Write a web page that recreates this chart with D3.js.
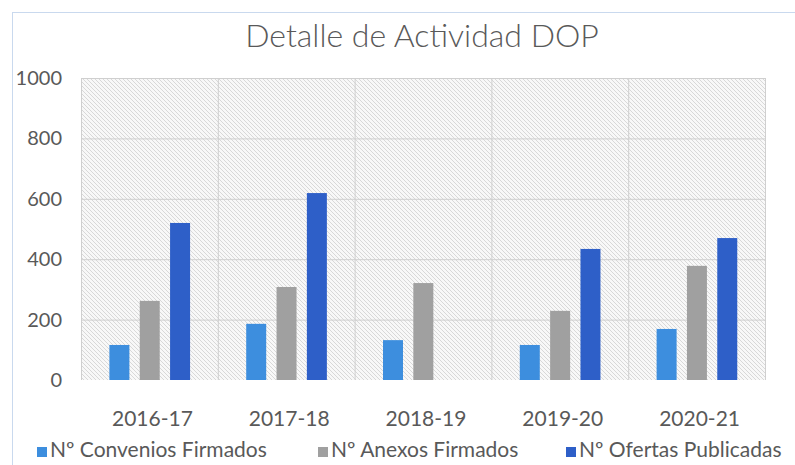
<!DOCTYPE html>
<html>

<head>
  <meta charset="utf-8">
  <title></title>
  <style>
    body { margin: 0; background: #fff; }
    text { font-family: Lato, "Open Sans", sans-serif; fill: #595959; }
  </style>
</head>

<body>

  <script src="https://cdnjs.cloudflare.com/ajax/libs/d3/7.8.5/d3.min.js" charset="utf-8"></script>
  <script type="text/javascript">
    var categories = ["2016-17", "2017-18", "2018-19", "2019-20", "2020-21"];
    var seriesNames = ["Nº Convenios Firmados", "Nº Anexos Firmados", "Nº Ofertas Publicadas"];
    var convenios = [116, 186, 132, 116, 169];
    var anexos = [262, 308, 321, 229, 378];
    var ofertas = [520, 619, 0, 434, 470];
    var yTicks = [0, 200, 400, 600, 800, 1000];
    var colors = ["#3d8ede", "#a0a0a0", "#2e5fc8"];

    var width = 795;
    var height = 465;
    var plotL = 81, plotR = 765, plotT = 78, plotB = 380;

    var svg = d3.select('body')
      .append("svg")
      .attr("height", height)
      .attr("width", width);

    // hatch fill
    var pat = svg.append("defs").append("pattern")
      .attr("id", "hatch")
      .attr("patternUnits", "userSpaceOnUse")
      .attr("width", 4)
      .attr("height", 4);
    pat.append("rect").attr("width", 4).attr("height", 4).attr("fill", "#f8f8f8");
    pat.append("path")
      .attr("d", "M-1,-1 L5,5 M-1,3 L1,5 M3,-1 L5,1")
      .attr("stroke", "#d8d8d8")
      .attr("stroke-width", 1);

    // chart frame
    svg.append("rect")
      .attr("x", 12.5).attr("y", 12.5)
      .attr("width", 800).attr("height", 470)
      .attr("fill", "none")
      .attr("stroke", "#c9d9ee");

    var x = d3.scaleBand().domain(categories).range([plotL, plotR]);
    var y = d3.scaleLinear().domain([0, 1000]).range([plotB, plotT]);
    var inner = d3.scaleBand().domain([0, 1, 2]).range([-40, 51]);

    svg.append("rect")
      .attr("x", plotL).attr("y", plotT)
      .attr("width", plotR - plotL).attr("height", plotB - plotT)
      .attr("fill", "url(#hatch)");

    // grid
    svg.append("g").selectAll("line").data(yTicks.slice(1)).enter().append("line")
      .attr("x1", plotL).attr("x2", plotR)
      .attr("y1", function(d) { return y(d) + 0.5; })
      .attr("y2", function(d) { return y(d) + 0.5; })
      .attr("stroke", "#cfcfcf");
    var bounds = categories.map(function(c) { return x(c); }).concat([plotR]);
    svg.append("g").selectAll("line").data(bounds).enter().append("line")
      .attr("x1", function(d) { return d + 0.5; })
      .attr("x2", function(d) { return d + 0.5; })
      .attr("y1", plotT).attr("y2", plotB)
      .attr("stroke", "#cfcfcf");

    // bars
    var series = [convenios, anexos, ofertas];
    series.forEach(function(vals, si) {
      svg.append("g").selectAll("rect").data(vals).enter().append("rect")
        .attr("x", function(d, i) { return x(categories[i]) + x.bandwidth() / 2 + inner(si); })
        .attr("width", 20)
        .attr("y", function(d) { return y(d); })
        .attr("height", function(d) { return plotB - y(d); })
        .attr("fill", colors[si]);
    });

    // y axis labels
    svg.append("g").selectAll("text").data(yTicks).enter().append("text")
      .attr("x", 62)
      .attr("y", function(d) { return y(d) + 7; })
      .attr("text-anchor", "end")
      .attr("font-size", 20)
      .text(function(d) { return d; });

    // x axis labels
    svg.append("g").selectAll("text").data(categories).enter().append("text")
      .attr("x", function(d) { return x(d) + x.bandwidth() / 2 + 3; })
      .attr("y", 426)
      .attr("text-anchor", "middle")
      .attr("font-size", 21)
      .text(function(d) { return d; });

    // title
    svg.append("text")
      .attr("x", 422).attr("y", 47)
      .attr("text-anchor", "middle")
      .attr("font-size", 32)
      .attr("font-weight", 300)
      .attr("fill", "#5f5f5f")
      .text("Detalle de Actividad DOP");

    // legend
    var legendX = [37, 318, 566];
    var lg = svg.append("g").selectAll("g").data(seriesNames).enter().append("g")
      .attr("transform", function(d, i) { return "translate(" + legendX[i] + ",0)"; });
    lg.append("rect")
      .attr("x", 0).attr("y", 447)
      .attr("width", 10).attr("height", 10)
      .attr("fill", function(d, i) { return colors[i]; });
    lg.append("text")
      .attr("x", 13).attr("y", 457)
      .attr("font-size", 21)
      .text(function(d) { return d; });
  </script>
</body>

</html>
